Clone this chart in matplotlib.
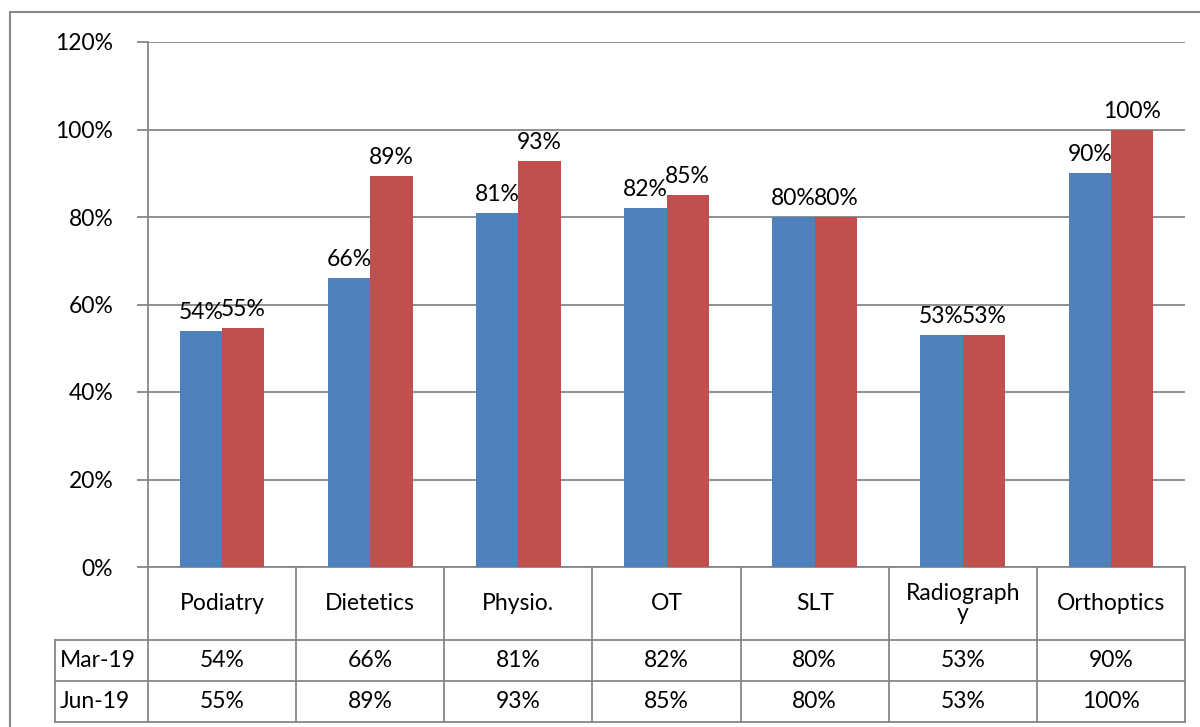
import matplotlib
matplotlib.use("Agg")
import matplotlib.pyplot as plt
from matplotlib.lines import Line2D
from matplotlib.patches import Rectangle
import matplotlib.transforms as mtransforms
import numpy as np

categories = ["Podiatry", "Dietetics", "Physio.", "OT", "SLT", "Radiograph\ny", "Orthoptics"]
series_names = ["Mar-19", "Jun-19"]
mar19 = [0.54, 0.66, 0.81, 0.82, 0.80, 0.53, 0.90]
jun19 = [0.546, 0.894, 0.928, 0.85, 0.80, 0.53, 1.00]
yticks = [0.0, 0.2, 0.4, 0.6, 0.8, 1.0, 1.2]

plt.rcParams['font.family'] = ['Lato', 'DejaVu Sans']
FS = 16.5
GRAY = "#878787"
BLUE = "#4F81BD"
RED = "#C0504D"

W, H = 1200, 727
fig = plt.figure(figsize=(W / 100, H / 100), dpi=100)

# outer chart border
fig.add_artist(Rectangle((10 / W, -0.05), 1.2, (H - 12) / H + 0.05, transform=fig.transFigure,
                         fill=False, edgecolor=GRAY, lw=1.5))

L, R, T, B = 148, 1185, 42, 567
ax = fig.add_axes([L / W, 1 - B / H, (R - L) / W, (B - T) / H])

n = len(categories)
x = np.arange(n)
bw = 1 / 3.5
ax.bar(x - bw / 2, mar19, width=bw, color=BLUE, zorder=3)
ax.bar(x + bw / 2, jun19, width=bw, color=RED, zorder=3)

for xi, v in zip(x - bw / 2, mar19):
    ax.annotate(f"{round(v * 100):.0f}%", (xi, v), xytext=(0, 8), textcoords="offset pixels",
                ha="center", va="bottom", fontsize=FS, color="black")
for xi, v in zip(x + bw / 2, jun19):
    ax.annotate(f"{round(v * 100):.0f}%", (xi, v), xytext=(0, 8), textcoords="offset pixels",
                ha="center", va="bottom", fontsize=FS, color="black")

ax.set_xlim(-0.5, n - 0.5)
ax.set_ylim(0, 1.2)
ax.set_yticks(yticks)
ax.set_yticklabels([f"{int(round(t * 100))}%" for t in yticks], fontsize=FS)
ax.tick_params(axis="y", direction="out", length=8, width=1.3, color=GRAY, pad=17)
ax.set_xticks([])
ax.yaxis.grid(True, color=GRAY, lw=1.3, zorder=0)
for s in ["top", "right", "bottom"]:
    ax.spines[s].set_visible(False)
ax.spines["left"].set_color(GRAY)
ax.spines["left"].set_linewidth(1.3)

# data table
trans = mtransforms.blended_transform_factory(ax.transData, ax.transAxes)
ph = B - T
def ya(py):
    return -(py - B) / ph

left_x = -0.5 + (55 - L) / ((R - L) / n)
rows_y = [B, 640, 681, 722]

def line(x0, x1, y0, y1):
    ax.add_line(Line2D([x0, x1], [ya(y0), ya(y1)], transform=trans, color=GRAY, lw=1.3,
                       clip_on=False))

line(-0.5, n - 0.5, B, B)
line(left_x, n - 0.5, 640, 640)
line(left_x, n - 0.5, 681, 681)
line(left_x, n - 0.5, 722, 722)
line(left_x, left_x, 640, 722)
for i in range(n + 1):
    line(-0.5 + i, -0.5 + i, B, 722)

for i, c in enumerate(categories):
    ax.text(i, ya((B + 640) / 2), c, transform=trans, ha="center", va="center", fontsize=FS,
            linespacing=1.0)
for r, (name, vals) in enumerate(zip(series_names, [mar19, jun19])):
    yc = ya((rows_y[r + 1] + rows_y[r + 2]) / 2)
    ax.text(left_x + 0.03, yc, name, transform=trans, ha="left", va="center", fontsize=FS)
    for i, v in enumerate(vals):
        ax.text(i, yc, f"{round(v * 100):.0f}%", transform=trans, ha="center", va="center",
                fontsize=FS)

fig.savefig("out.png", dpi=100)
